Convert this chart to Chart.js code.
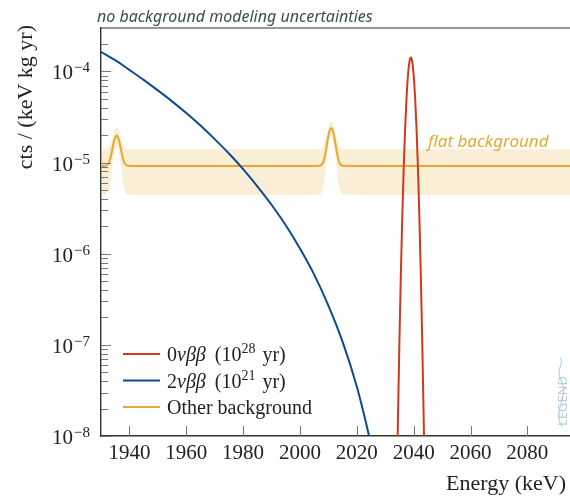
<!DOCTYPE html>
<html>
<head>
<meta charset="utf-8">
<script src="https://cdn.jsdelivr.net/npm/chart.js@4.4.1/dist/chart.umd.min.js"></script>
<style>
  html, body { margin: 0; padding: 0; background: #fff; }
  #wrap { width: 570px; height: 497px; }
</style>
</head>
<body>
<div id="wrap"><canvas id="spectrum" width="570" height="497"></canvas></div>
<script>
// --- axes ---
const xTicks = [1940, 1960, 1980, 2000, 2020, 2040, 2060, 2080];
const yDecades = [1e-8, 1e-7, 1e-6, 1e-5, 1e-4];

// --- 0vbb peak (10^28 yr) ---
const energy0nu = [2033, 2033.5, 2034, 2034.5, 2035, 2035.5, 2036, 2036.5, 2037, 2037.5, 2038, 2038.5,
                   2039, 2039.5, 2040, 2040.5, 2041, 2041.5, 2042, 2042.5, 2043, 2043.5, 2044, 2044.5, 2045];
const rate0nu = [1.6e-11, 2.0e-10, 2.1e-9, 1.73e-8, 1.15e-7, 6.1e-7, 2.59e-6, 8.8e-6, 2.4e-5, 5.2e-5, 9.1e-5, 1.27e-4,
                 1.42e-4, 1.27e-4, 9.1e-5, 5.2e-5, 2.4e-5, 8.8e-6, 2.59e-6, 6.1e-7, 1.15e-7, 1.73e-8, 2.1e-9, 2.0e-10, 1.6e-11];

// --- 2vbb continuum (10^21 yr) ---
const energy2nu = [1930, 1935, 1940, 1945, 1950, 1955, 1960, 1965, 1970, 1975, 1980, 1985,
                   1990, 1995, 2000, 2005, 2010, 2015, 2020, 2022, 2024, 2026, 2028, 2030];
const rate2nu = [1.64e-4, 1.33e-4, 1.04e-4, 8.1e-5, 6.2e-5, 4.7e-5, 3.5e-5, 2.55e-5, 1.81e-5, 1.26e-5, 8.5e-6, 5.5e-6,
                 3.45e-6, 2.05e-6, 1.14e-6, 5.9e-7, 2.7e-7, 1.08e-7, 3.5e-8, 2.0e-8, 1.1e-8, 5.7e-9, 2.5e-9, 9e-10];

// --- other background: flat level with two gamma lines, plus its band ---
const energyBkg = [1930, 1931.5, 1932, 1932.5, 1933, 1933.5, 1934, 1934.5, 1935, 1935.5, 1936, 1936.5, 1937, 1937.5,
                   1938, 1938.5, 1939, 1939.5, 1945, 1960, 1980, 2000,
                   2007, 2007.5, 2008, 2008.5, 2009, 2009.5, 2010, 2010.5, 2011, 2011.5, 2012, 2012.5, 2013, 2013.5,
                   2014, 2014.5, 2015, 2030, 2060, 2095];
const rateBkg = [9.2e-6, 9.24e-6, 9.35e-6, 9.67e-6, 1.04e-5, 1.18e-5, 1.41e-5, 1.67e-5, 1.89e-5, 1.98e-5, 1.89e-5, 1.67e-5, 1.41e-5, 1.18e-5,
                 1.04e-5, 9.67e-6, 9.35e-6, 9.24e-6, 9.2e-6, 9.2e-6, 9.2e-6, 9.2e-6,
                 9.26e-6, 9.41e-6, 9.85e-6, 1.09e-5, 1.29e-5, 1.60e-5, 1.97e-5, 2.28e-5, 2.40e-5, 2.28e-5, 1.97e-5, 1.60e-5, 1.29e-5, 1.09e-5,
                 9.85e-6, 9.41e-6, 9.26e-6, 9.2e-6, 9.2e-6, 9.2e-6];
const rateBkgHigh = [1.40e-5, 1.40e-5, 1.42e-5, 1.45e-5, 1.52e-5, 1.66e-5, 1.89e-5, 2.15e-5, 2.37e-5, 2.46e-5, 2.37e-5, 2.15e-5, 1.89e-5, 1.66e-5,
                     1.52e-5, 1.45e-5, 1.42e-5, 1.40e-5, 1.40e-5, 1.40e-5, 1.40e-5, 1.40e-5,
                     1.41e-5, 1.42e-5, 1.47e-5, 1.57e-5, 1.77e-5, 2.08e-5, 2.45e-5, 2.76e-5, 2.88e-5, 2.76e-5, 2.45e-5, 2.08e-5, 1.77e-5, 1.57e-5,
                     1.47e-5, 1.42e-5, 1.41e-5, 1.40e-5, 1.40e-5, 1.40e-5];
const rateBkgLow = [4.4e-6, 4.44e-6, 4.55e-6, 4.87e-6, 5.6e-6, 7.0e-6, 9.3e-6, 1.19e-5, 1.41e-5, 1.50e-5, 1.41e-5, 1.19e-5, 9.3e-6, 7.0e-6,
                    5.6e-6, 4.87e-6, 4.55e-6, 4.44e-6, 4.4e-6, 4.4e-6, 4.4e-6, 4.4e-6,
                    4.46e-6, 4.61e-6, 5.05e-6, 6.1e-6, 8.1e-6, 1.12e-5, 1.49e-5, 1.80e-5, 1.92e-5, 1.80e-5, 1.49e-5, 1.12e-5, 8.1e-6, 6.1e-6,
                    5.05e-6, 4.61e-6, 4.46e-6, 4.4e-6, 4.4e-6, 4.4e-6];

const RED = '#cf3a1c';
const BLUE = '#0c4b92';
const GOLD = '#e3aa33';
const SERIF = '"Liberation Serif", "DejaVu Serif", serif';
const HAND = '"Noto Sans", sans-serif';

const pts = (xs, ys) => xs.map((e, i) => ({ x: e, y: ys[i] }));

// draws "10" with a raised exponent, right edge at xr
function drawPow(ctx, xr, yc, exp) {
  const sup = '\u2212' + Math.abs(exp);
  ctx.font = `15px ${SERIF}`;
  const wSup = ctx.measureText(sup).width;
  ctx.textAlign = 'left';
  ctx.textBaseline = 'alphabetic';
  ctx.fillText(sup, xr - wSup, yc + 1);
  ctx.font = `21px ${SERIF}`;
  ctx.textAlign = 'right';
  ctx.fillText('10', xr - wSup - 1, yc + 8);
}

// runs of text with optional superscript / italic pieces
function drawRuns(ctx, x, y, runs) {
  ctx.textAlign = 'left';
  ctx.textBaseline = 'alphabetic';
  for (const r of runs) {
    if (r.sup) {
      ctx.font = `14px ${SERIF}`;
      ctx.fillText(r.t, x, y - 8);
    } else {
      ctx.font = `${r.it ? 'italic ' : ''}20px ${SERIF}`;
      ctx.fillText(r.t, x, y);
    }
    x += ctx.measureText(r.t).width + (r.gap || 0);
  }
}

const legendItems = [
  { color: RED,  runs: [{ t: '0' }, { t: '\u03bd\u03b2\u03b2', it: true, gap: 4 }, { t: ' (10' }, { t: '28', sup: true, gap: 2 }, { t: ' yr)' }] },
  { color: BLUE, runs: [{ t: '2' }, { t: '\u03bd\u03b2\u03b2', it: true, gap: 4 }, { t: ' (10' }, { t: '21', sup: true, gap: 2 }, { t: ' yr)' }] },
  { color: GOLD, runs: [{ t: 'Other background' }] }
];

const overlay = {
  id: 'overlay',
  afterDraw(chart) {
    const { ctx, chartArea: a, scales: { x, y } } = chart;
    ctx.save();

    // frame: top line
    ctx.strokeStyle = '#333';
    ctx.lineWidth = 1.2;
    ctx.beginPath();
    ctx.moveTo(a.left, a.top);
    ctx.lineTo(a.right, a.top);
    ctx.stroke();

    // inward tick marks
    ctx.strokeStyle = '#777';
    ctx.lineWidth = 1;
    ctx.beginPath();
    for (const v of xTicks) {
      const px = Math.round(x.getPixelForValue(v)) + 0.5;
      ctx.moveTo(px, a.bottom);
      ctx.lineTo(px, a.bottom - 10);
    }
    for (const d of yDecades) {
      for (let m = 1; m <= 9; m++) {
        const v = d * m;
        if (v > y.max) break;
        const py = Math.round(y.getPixelForValue(v)) + 0.5;
        ctx.moveTo(a.left, py);
        ctx.lineTo(a.left + (m === 1 ? 10 : 7), py);
      }
    }
    ctx.stroke();

    // y tick labels
    ctx.fillStyle = '#222';
    for (const d of yDecades) {
      drawPow(ctx, 90, y.getPixelForValue(d), Math.round(Math.log10(d)));
    }

    // axis titles
    ctx.font = `22px ${SERIF}`;
    ctx.textAlign = 'right';
    ctx.textBaseline = 'alphabetic';
    ctx.fillText('Energy (keV)', 566, 490);
    ctx.save();
    ctx.translate(32, 25);
    ctx.rotate(-Math.PI / 2);
    ctx.font = `22px ${SERIF}`;
    ctx.textAlign = 'right';
    ctx.fillText('cts / (keV kg yr)', 0, 0);
    ctx.restore();

    // legend
    legendItems.forEach((it, i) => {
      const ly = 354 + i * 26.5;
      ctx.strokeStyle = it.color;
      ctx.lineWidth = 2;
      ctx.beginPath();
      ctx.moveTo(123, ly);
      ctx.lineTo(160, ly);
      ctx.stroke();
      ctx.fillStyle = '#222';
      drawRuns(ctx, 167, ly + 7, it.runs);
    });

    // handwritten notes
    ctx.fillStyle = '#3b4f55';
    ctx.font = `italic 16px ${HAND}`;
    ctx.textAlign = 'left';
    ctx.fillText('no background modeling uncertainties', 97, 22);
    ctx.fillStyle = GOLD;
    ctx.font = `italic 17px ${HAND}`;
    ctx.fillText('flat background', 428, 147);

    // collaboration mark, bottom right
    ctx.save();
    ctx.translate(563, 426);
    ctx.rotate(-Math.PI / 2);
    ctx.fillStyle = '#c3cad0';
    ctx.font = `13px ${HAND}`;
    ctx.textAlign = 'left';
    ctx.textBaseline = 'middle';
    ctx.fillText('LEGEND', 0, 0);
    ctx.restore();
    ctx.strokeStyle = '#8ccfee';
    ctx.lineWidth = 1;
    ctx.beginPath();
    ctx.moveTo(562, 427);
    ctx.bezierCurveTo(552, 410, 570, 395, 561, 380);
    ctx.bezierCurveTo(555, 370, 565, 362, 560, 358);
    ctx.stroke();

    ctx.restore();
  }
};

new Chart(document.getElementById('spectrum').getContext('2d'), {
  type: 'line',
  data: {
    datasets: [
      {
        label: 'Other background band',
        data: pts(energyBkg, rateBkgHigh),
        borderWidth: 0,
        pointRadius: 0,
        backgroundColor: 'rgba(234, 178, 70, 0.22)',
        fill: '+1',
        cubicInterpolationMode: 'monotone',
        order: 10
      },
      {
        label: 'band low',
        data: pts(energyBkg, rateBkgLow),
        borderWidth: 0,
        pointRadius: 0,
        fill: false,
        cubicInterpolationMode: 'monotone',
        order: 11
      },
      {
        label: 'Other background',
        data: pts(energyBkg, rateBkg),
        borderColor: GOLD,
        borderWidth: 2,
        pointRadius: 0,
        fill: false,
        cubicInterpolationMode: 'monotone',
        order: 3
      },
      {
        label: '2vbb (1e21 yr)',
        data: pts(energy2nu, rate2nu),
        borderColor: BLUE,
        borderWidth: 2,
        pointRadius: 0,
        fill: false,
        cubicInterpolationMode: 'monotone',
        order: 2
      },
      {
        label: '0vbb (1e28 yr)',
        data: pts(energy0nu, rate0nu),
        borderColor: RED,
        borderWidth: 2,
        pointRadius: 0,
        fill: false,
        cubicInterpolationMode: 'monotone',
        order: 1
      }
    ]
  },
  options: {
    responsive: false,
    animation: false,
    devicePixelRatio: 1,
    layout: { padding: { top: 28, right: 0, left: 0, bottom: 0 } },
    scales: {
      x: {
        type: 'linear',
        min: 1930,
        max: 2095,
        afterBuildTicks: (s) => { s.ticks = xTicks.map(v => ({ value: v })); },
        afterFit: (s) => { s.height = 61; },
        grid: { display: false },
        border: { display: true, color: '#333', width: 1.4 },
        ticks: {
          color: '#222',
          font: { family: SERIF, size: 21 },
          padding: -3,
          maxRotation: 0,
          autoSkip: false,
          callback: (v) => String(v)
        }
      },
      y: {
        type: 'logarithmic',
        min: 1e-8,
        max: 3e-4,
        afterBuildTicks: (s) => { s.ticks = yDecades.map(v => ({ value: v })); },
        afterFit: (s) => { s.width = 101; },
        grid: { display: false },
        border: { display: true, color: '#333', width: 1.4 },
        ticks: { display: false }
      }
    },
    plugins: {
      legend: { display: false },
      tooltip: { enabled: false }
    }
  },
  plugins: [overlay]
});
</script>
</body>
</html>
